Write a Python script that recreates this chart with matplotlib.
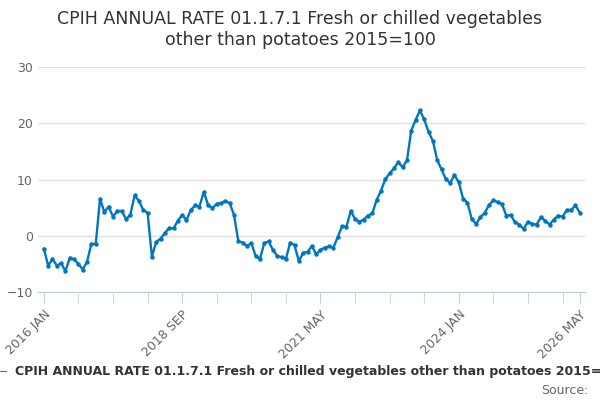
import matplotlib
matplotlib.use("Agg")
import matplotlib.pyplot as plt

values = [-2.3,-5.3,-4.1,-5.3,-4.9,-6.3,-3.9,-4.2,-5.0,-6.0,-4.6,-1.4,-1.5,6.6,4.2,5.2,3.4,4.4,4.4,3.0,
          3.7,7.2,6.2,4.6,4.1,-3.7,-1.1,-0.5,0.5,1.4,1.3,2.7,3.7,2.8,4.6,5.4,5.2,7.8,5.5,4.9,
          5.7,5.8,6.2,5.8,
          3.7,-1.0,-1.2,-1.8,-1.3,-3.6,-4.1,-1.3,-1.0,-2.5,-3.6,-3.8,-4.1,-1.2,-1.7,-4.5,-3.0,-2.9,-1.8,-3.3,
          -2.5,-2.1,-1.9,-2.1,-0.2,1.7,1.6,4.4,3.0,2.5,2.9,3.6,4.0,6.4,8.0,10.1,11.1,12.0,13.1,12.2,13.4,
          18.7,20.6,22.3,20.7,18.5,16.9,13.5,11.8,10.1,9.4,10.8,9.5,6.6,5.9,3.0,2.1,3.3,4.1,5.5,6.3,
          6.0,5.6,3.6,3.7,2.4,2.0,1.2,2.5,2.1,2.0,3.3,2.7,2.0,2.9,3.6,3.4,4.6,4.6,5.4,4.1]
tick_pos = [0, 32, 64, 96, 124]
tick_labels = ["2016 JAN", "2018 SEP", "2021 MAY", "2024 JAN", "2026 MAY"]
minor_pos = list(range(0, 121, 8))
title = "CPIH ANNUAL RATE 01.1.7.1 Fresh or chilled vegetables\nother than potatoes 2015=100"
series_name = "CPIH ANNUAL RATE 01.1.7.1 Fresh or chilled vegetables other than potatoes 2015=100"

fig = plt.figure(figsize=(6, 4), dpi=100)
ax = fig.add_axes([0.063, 0.27, 0.912, 0.562])
x = list(range(len(values)))
c = "#0076c0"
ax.plot(x, values, color=c, lw=1.7, marker="o", ms=2.2)
ax.set_xlim(-1.4, 125.2)
ax.set_ylim(-10, 30)
ax.set_yticks([-10, 0, 10, 20, 30])
ax.grid(axis="y", color="#e0e0e0", lw=1)
ax.set_axisbelow(True)
for s in ["top", "right", "left"]:
    ax.spines[s].set_visible(False)
ax.spines["bottom"].set_color("#c0d0e0")
ax.set_xticks(minor_pos + [124], minor=True)
ax.set_xticks(tick_pos)
ax.set_xticklabels(tick_labels, rotation=45, ha="right", rotation_mode="anchor", color="#666666", fontsize=9)
ax.tick_params(axis="x", which="both", length=8, color="#c0d0e0")
ax.tick_params(axis="y", length=0, labelcolor="#666666", labelsize=9)
fig.suptitle(title, fontsize=12.5, y=0.975, color="#333333")
fig.text(-0.01, 0.07, "\u2014", color=c, fontsize=9, va="center")
fig.text(0.025, 0.07, series_name, fontsize=9, fontweight="bold", color="#333333", va="center")
fig.text(0.98, 0.025, "Source:", fontsize=9, color="#666666", ha="right", va="center")
fig.savefig("out.png")
